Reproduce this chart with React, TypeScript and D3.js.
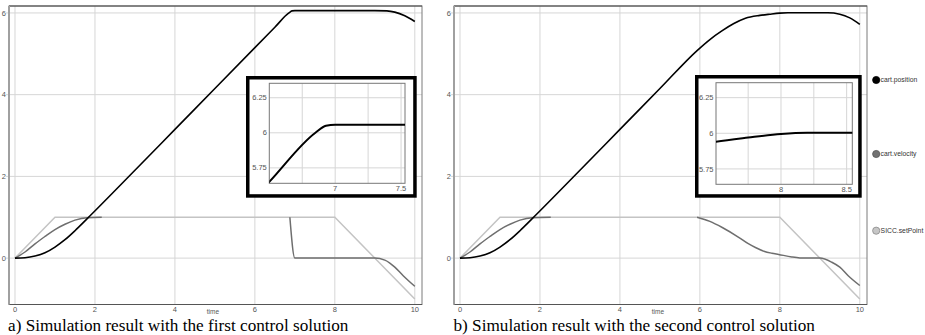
import * as d3 from 'd3'

const W = 925
const H = 335

// shared axes
const TIME_TICKS = [0, 2, 4, 6, 8, 10]
const VALUE_TICKS = [0, 2, 4, 6]

// SICC.setPoint (same in both runs)
const setTime = [0, 1, 8, 10]
const setValue = [0, 1, 1, -1]

// a) first control solution
const posTimeA = [0, 0.25, 0.5, 0.75, 1, 1.25, 1.5, 1.8, 3, 4, 5, 6, 6.5, 6.85, 6.93, 7, 8, 9, 9.3, 9.5, 9.75, 10]
const posA = [0, 0.01, 0.05, 0.13, 0.27, 0.45, 0.67, 0.96, 2.15, 3.15, 4.15, 5.15, 5.65, 6.0, 6.05, 6.057, 6.057, 6.057, 6.05, 6.02, 5.93, 5.79]
const velTimeA = [0, 0.25, 0.5, 0.75, 1, 1.25, 1.5, 1.8, 2.17, 4.5, 6.875, 7, 8, 9, 9.25, 9.375, 9.5, 9.71, 10]
const velA = [0, 0.15, 0.35, 0.53, 0.7, 0.83, 0.93, 0.99, 1, null, 1, 0, 0, 0, -0.05, -0.12, -0.22, -0.43, -0.69]

// b) second control solution
const posTimeB = [0, 0.25, 0.5, 0.75, 1, 1.25, 1.5, 1.8, 3, 4, 5, 5.93, 6.25, 6.55, 6.85, 7.14, 7.5, 7.75, 8, 8.2, 9.2, 9.5, 9.75, 10]
const posB = [0, 0.01, 0.05, 0.13, 0.27, 0.45, 0.67, 0.96, 2.15, 3.15, 4.15, 5.08, 5.35, 5.56, 5.74, 5.87, 5.94, 5.97, 5.995, 6.003, 6.003, 5.97, 5.88, 5.72]
const velTimeB = [0, 0.25, 0.5, 0.75, 1, 1.25, 1.5, 1.8, 2.27, 4, 5.93, 6.25, 6.56, 6.97, 7.2, 7.39, 7.6, 7.8, 7.97, 8.3, 8.5, 8.6, 9, 9.3, 9.5, 9.71, 10]
const velB = [0, 0.15, 0.35, 0.53, 0.7, 0.83, 0.93, 0.99, 1, null, 1, 0.9, 0.75, 0.51, 0.36, 0.26, 0.17, 0.12, 0.09, 0.03, 0.005, 0, 0, -0.1, -0.22, -0.43, -0.67]

// insets
const INSET_Y_TICKS = [5.75, 6, 6.25]
const insetXTicksA = [7, 7.5]
const insetGridA = [6.75, 7, 7.25, 7.5]
const insetXTicksB = [8, 8.5]
const insetGridB = [7.75, 8, 8.25, 8.5]

const LEGEND = ['cart.position', 'cart.velocity', 'SICC.setPoint']
const LEGEND_FILL = ['#000000', '#727272', '#c6c6c6']
const LEGEND_STROKE = ['#000000', '#555555', '#8a8a8a']

const POS_COLOR = '#000000'
const VEL_COLOR = '#6e6e6e'
const SET_COLOR = '#c4c4c4'
const GRID = '#d6d6d6'
const TICK_TEXT = '#555'
const FONT = 'Liberation Sans, Arial, sans-serif'

const FRAME_W = 413
const FRAME_TOP = 6
const FRAME_BOTTOM = 304.5

type Pt = { t: number; v: number | null }
const zip = (ts: number[], vs: (number | null)[]): Pt[] => ts.map((t, i) => ({ t, v: vs[i] }))

const PANELS = [
  {
    id: 'a',
    left: 9,
    caption: 'a) Simulation result with the first control solution',
    captionX: 8,
    pos: zip(posTimeA, posA),
    vel: zip(velTimeA, velA),
    inset: {
      outer: [246, 76, 416.7, 197.7],
      inner: [269.3, 83.3, 405, 183.3],
      xDomain: [6.5, 7.53],
      yDomain: [5.64, 6.353],
      xTicks: insetXTicksA,
      grid: insetGridA,
    },
  },
  {
    id: 'b',
    left: 454,
    caption: 'b) Simulation result with the second control solution',
    captionX: 453.5,
    pos: zip(posTimeB, posB),
    vel: zip(velTimeB, velB),
    inset: {
      outer: [695, 75, 861.7, 197.7],
      inner: [716, 82.7, 852.3, 184.3],
      xDomain: [7.505, 8.543],
      yDomain: [5.642, 6.355],
      xTicks: insetXTicksB,
      grid: insetGridB,
    },
  },
]

function Panel({ p }: { p: (typeof PANELS)[number] }) {
  const x = d3.scaleLinear().domain([-0.15, 10.18]).range([p.left, p.left + FRAME_W])
  const y = d3.scaleLinear().domain([-1.135, 6.17]).range([FRAME_BOTTOM, FRAME_TOP])
  const line = d3.line<Pt>()
    .defined(d => d.v !== null)
    .x(d => x(d.t))
    .y(d => y(d.v as number))
    .curve(d3.curveMonotoneX)
  const setLine = d3.line<Pt>().x(d => x(d.t)).y(d => y(d.v as number))
  const setPts = zip(setTime, setValue)

  const ins = p.inset
  const [ox0, oy0, ox1, oy1] = ins.outer
  const [ix0, iy0, ix1, iy1] = ins.inner
  const ix = d3.scaleLinear().domain(ins.xDomain).range([ix0, ix1])
  const iy = d3.scaleLinear().domain(ins.yDomain).range([iy1, iy0])
  const insetLine = d3.line<Pt>()
    .defined(d => d.v !== null)
    .x(d => ix(d.t))
    .y(d => iy(d.v as number))
    .curve(d3.curveMonotoneX)
  const clipId = `inset-clip-${p.id}`

  return (
    <g>
      <defs>
        <clipPath id={clipId}>
          <rect x={ix0} y={iy0} width={ix1 - ix0} height={iy1 - iy0} />
        </clipPath>
      </defs>

      {/* grid */}
      {TIME_TICKS.map(t => (
        <line key={'gx' + t} x1={x(t)} x2={x(t)} y1={FRAME_TOP} y2={FRAME_BOTTOM} stroke={GRID} strokeWidth={1} />
      ))}
      {VALUE_TICKS.map(v => (
        <line key={'gy' + v} x1={p.left - 3} x2={p.left + FRAME_W} y1={y(v)} y2={y(v)} stroke={GRID} strokeWidth={1} />
      ))}

      {/* frame */}
      <rect x={p.left} y={FRAME_TOP} width={FRAME_W} height={FRAME_BOTTOM - FRAME_TOP} fill="none" stroke="#7a7a7a" strokeWidth={1} />
      <line x1={p.left} x2={p.left + FRAME_W} y1={FRAME_TOP} y2={FRAME_TOP} stroke="#4a4a4a" strokeWidth={1.2} />
      <line x1={p.left} x2={p.left + FRAME_W} y1={FRAME_BOTTOM} y2={FRAME_BOTTOM} stroke="#555" strokeWidth={1.2} />
      <line x1={p.left} x2={p.left} y1={FRAME_TOP} y2={FRAME_BOTTOM} stroke="#a0a0a0" strokeWidth={2} />

      {/* tick labels */}
      {VALUE_TICKS.map(v => (
        <text key={'ty' + v} x={p.left - 3} y={y(v)} dy="0.35em" textAnchor="end" fontSize={7.5} fill={TICK_TEXT} fontFamily={FONT}>{v}</text>
      ))}
      {TIME_TICKS.map(t => (
        <text key={'tx' + t} x={x(t)} y={312} textAnchor="middle" fontSize={7.5} fill={TICK_TEXT} fontFamily={FONT}>{t}</text>
      ))}
      <text x={x(4.95)} y={313.8} textAnchor="middle" fontSize={6.5} fill={TICK_TEXT} fontFamily={FONT}>time</text>

      {/* series */}
      <path d={setLine(setPts) ?? ''} fill="none" stroke={SET_COLOR} strokeWidth={1.5} />
      <path d={line(p.vel) ?? ''} fill="none" stroke={VEL_COLOR} strokeWidth={1.5} />
      <path d={line(p.pos) ?? ''} fill="none" stroke={POS_COLOR} strokeWidth={1.6} />

      {/* inset */}
      <rect x={ox0 + 1.75} y={oy0 + 1.75} width={ox1 - ox0 - 3.5} height={oy1 - oy0 - 3.5} fill="#fff" stroke="#000" strokeWidth={3.5} />
      {ins.grid.map(t => (
        <line key={'igx' + t} x1={ix(t)} x2={ix(t)} y1={iy0} y2={iy1} stroke={GRID} strokeWidth={1} />
      ))}
      {INSET_Y_TICKS.map(v => (
        <line key={'igy' + v} x1={ix0} x2={ix1} y1={iy(v)} y2={iy(v)} stroke={GRID} strokeWidth={1} />
      ))}
      <rect x={ix0} y={iy0} width={ix1 - ix0} height={iy1 - iy0} fill="none" stroke="#777" strokeWidth={1} />
      {INSET_Y_TICKS.map(v => (
        <text key={'ity' + v} x={ix0 - 2.5} y={iy(v)} dy="0.35em" textAnchor="end" fontSize={7.5} fill={TICK_TEXT} fontFamily={FONT}>{v}</text>
      ))}
      {ins.xTicks.map(t => (
        <text key={'itx' + t} x={ix(t)} y={iy1 + 7.8} textAnchor="middle" fontSize={7.5} fill={TICK_TEXT} fontFamily={FONT}>{t}</text>
      ))}
      <path d={insetLine(p.pos) ?? ''} fill="none" stroke={POS_COLOR} strokeWidth={2} clipPath={`url(#${clipId})`} />

      {/* caption */}
      <text x={p.captionX} y={330.5} fontSize={17.2} fill="#000" fontFamily="Liberation Serif, Times New Roman, serif">{p.caption}</text>
    </g>
  )
}

export default function App() {
  const legendY = [80, 154, 230.7]
  return (
    <svg width={W} height={H} style={{ position: 'absolute', left: 0, top: 0, background: '#fff' }}>
      <rect width={W} height={H} fill="#fff" />
      {PANELS.map(p => <Panel key={p.id} p={p} />)}
      {LEGEND.map((name, i) => (
        <g key={name}>
          <circle cx={876.2} cy={legendY[i]} r={3.6} fill={LEGEND_FILL[i]} stroke={LEGEND_STROKE[i]} strokeWidth={0.8} />
          <text x={880.6} y={legendY[i]} dy="0.35em" fontSize={6.8} fill="#333" fontFamily={FONT}>{name}</text>
        </g>
      ))}
    </svg>
  )
}
